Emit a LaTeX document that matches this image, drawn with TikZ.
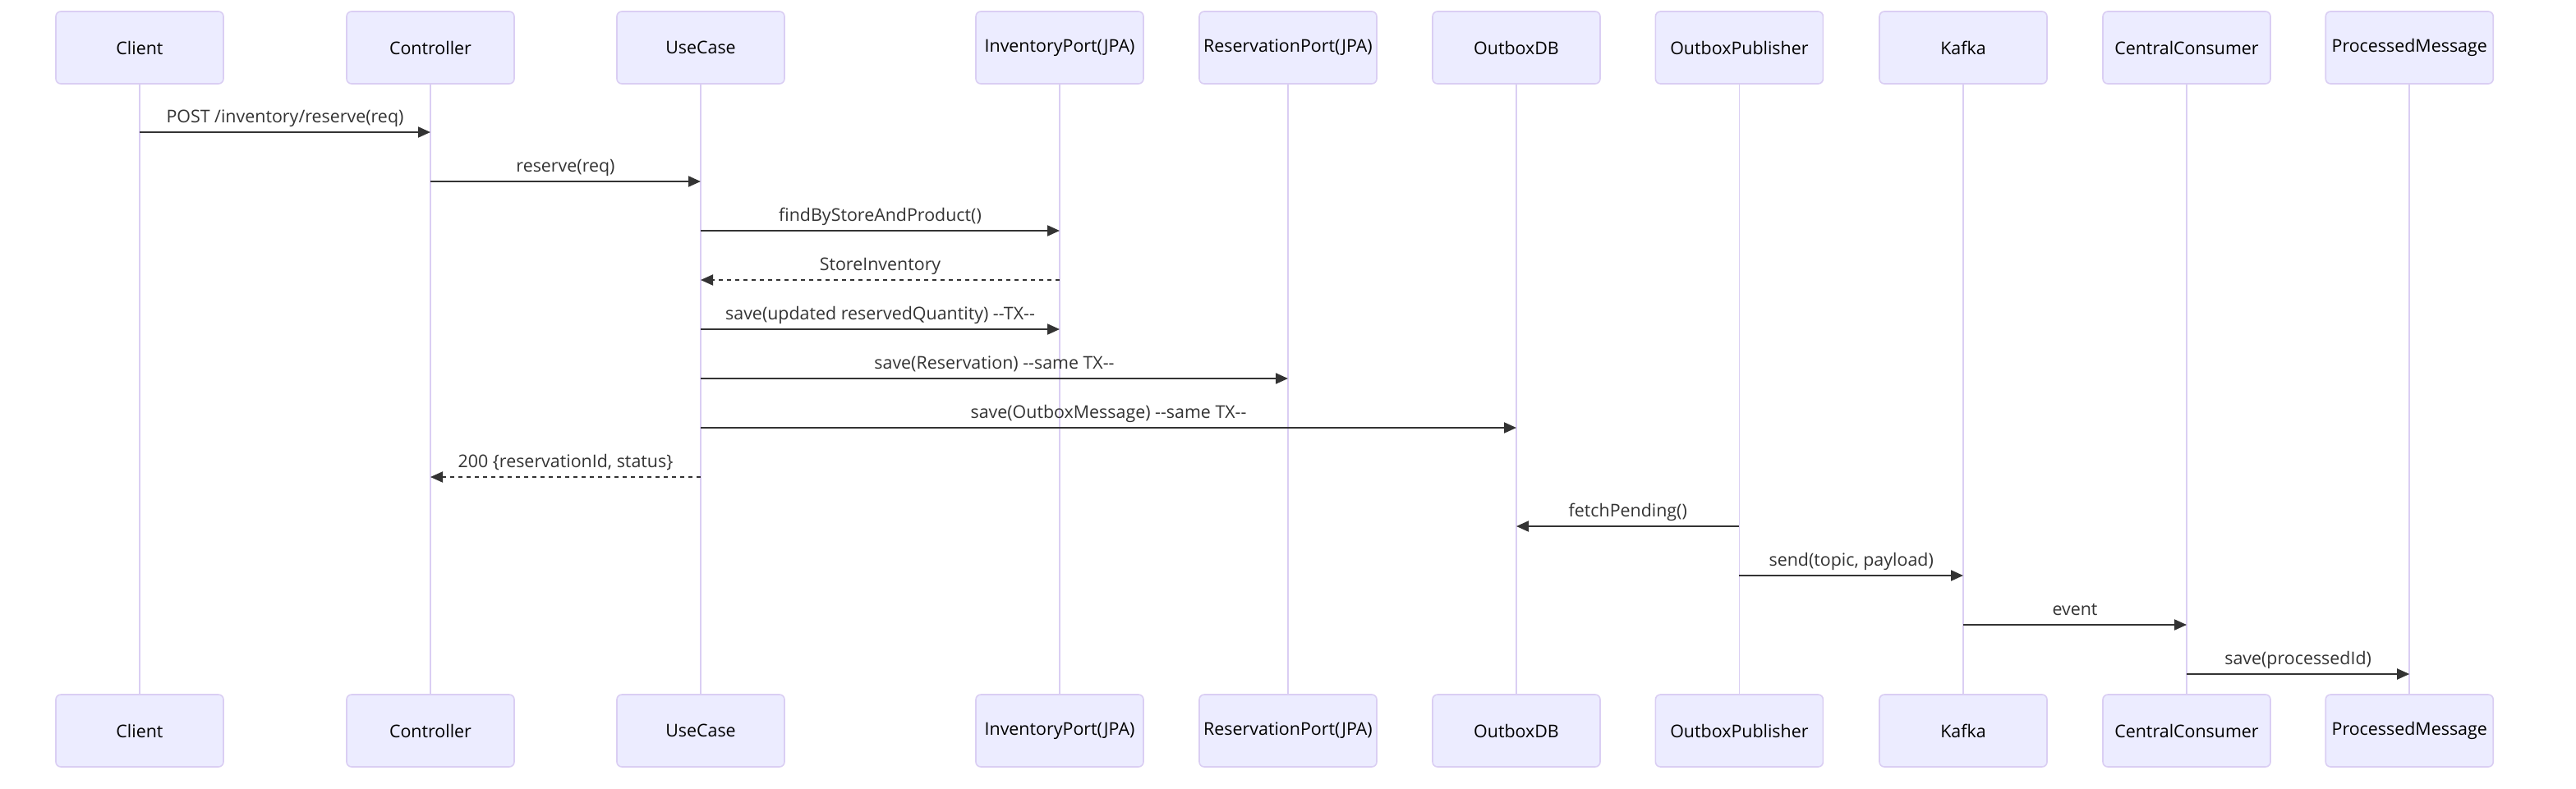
\documentclass[tikz,border=0pt]{standalone}
\usepackage{fontspec}
\setmainfont{Open Sans}
\usepackage{tikz}
\usetikzlibrary{arrows.meta}
\definecolor{actorfill}{HTML}{ECECFF}
\definecolor{actorline}{HTML}{DACEF3}
\definecolor{signal}{HTML}{333333}
\newcommand{\msgfont}{\fontsize{10.7}{12}\selectfont}

\begin{document}
\begin{tikzpicture}[x=1pt,
                    y=-1pt,
                    actor/.style={rectangle,draw=actorline,fill=actorfill,line width=0.8pt,
                                  rounded corners=3pt,minimum width=102pt,minimum height=44pt,
                                  inner sep=0pt,font=\msgfont},
                    lifeline/.style={draw=actorline,line width=0.8pt},
                    msg/.style={draw=signal,line width=1pt,-{Triangle[length=7.5pt,width=6.5pt]}},
                    reply/.style={msg,dash pattern=on 2.5pt off 2.5pt},
                    lbl/.style={anchor=base,yshift=6pt,inner sep=0pt,text=signal,font=\msgfont}
                    ]
  \useasboundingbox (0,0) rectangle (1568,480);
  \node[actor] (client)     at (85,29)     {Client};
  \node[actor] (controller) at (262,29)    {Controller};
  \node[actor] (usecase)    at (426.5,29)  {UseCase};
  \node[actor] (invport)    at (645,29)    {InventoryPort(JPA)};
  \node[actor,minimum width=108pt] (resport) at (784,29) {ReservationPort(JPA)};
  \node[actor] (outboxdb)   at (923,29)    {OutboxDB};
  \node[actor] (publisher)  at (1058.7,29) {OutboxPublisher};
  \node[actor] (kafka)      at (1195,29)   {Kafka};
  \node[actor] (consumer)   at (1331,29)   {CentralConsumer};
  \node[actor] (processed)  at (1466.6,29) {ProcessedMessage};
  \node[actor] (clientB)     at (85,445)     {Client};
  \node[actor] (controllerB) at (262,445)    {Controller};
  \node[actor] (usecaseB)    at (426.5,445)  {UseCase};
  \node[actor] (invportB)    at (645,445)    {InventoryPort(JPA)};
  \node[actor,minimum width=108pt] (resportB) at (784,445) {ReservationPort(JPA)};
  \node[actor] (outboxdbB)   at (923,445)    {OutboxDB};
  \node[actor] (publisherB)  at (1058.7,445) {OutboxPublisher};
  \node[actor] (kafkaB)      at (1195,445)   {Kafka};
  \node[actor] (consumerB)   at (1331,445)   {CentralConsumer};
  \node[actor] (processedB)  at (1466.6,445) {ProcessedMessage};
  \foreach \a in {client,controller,usecase,invport,resport,outboxdb,publisher,kafka,consumer,processed}
    \draw[lifeline] (\a.south) -- (\a B.north);
  \foreach \i in {1,...,12}
    \coordinate (r\i) at (0,50.5+30*\i);
  \draw[msg]   (client |- r1)     -- node[lbl] {POST /inventory/reserve(req)} (controller |- r1);
  \draw[msg]   (controller |- r2) -- node[lbl] {reserve(req)} (usecase |- r2);
  \draw[msg]   (usecase |- r3)    -- node[lbl] {findByStoreAndProduct()} (invport |- r3);
  \draw[reply] (invport |- r4)    -- node[lbl] {StoreInventory} (usecase |- r4);
  \draw[msg]   (usecase |- r5)    -- node[lbl] {save(updated reservedQuantity) -{}-TX-{}-} (invport |- r5);
  \draw[msg]   (usecase |- r6)    -- node[lbl] {save(Reservation) -{}-same TX-{}-} (resport |- r6);
  \draw[msg]   (usecase |- r7)    -- node[lbl] {save(OutboxMessage) -{}-same TX-{}-} (outboxdb |- r7);
  \draw[reply] (usecase |- r8)    -- node[lbl] {200 \{reservationId, status\}} (controller |- r8);
  \draw[msg]   (publisher |- r9)  -- node[lbl] {fetchPending()} (outboxdb |- r9);
  \draw[msg]   (publisher |- r10) -- node[lbl] {send(topic, payload)} (kafka |- r10);
  \draw[msg]   (kafka |- r11)     -- node[lbl] {event} (consumer |- r11);
  \draw[msg]   (consumer |- r12)  -- node[lbl] {save(processedId)} (processed |- r12);
\end{tikzpicture}
\end{document}
